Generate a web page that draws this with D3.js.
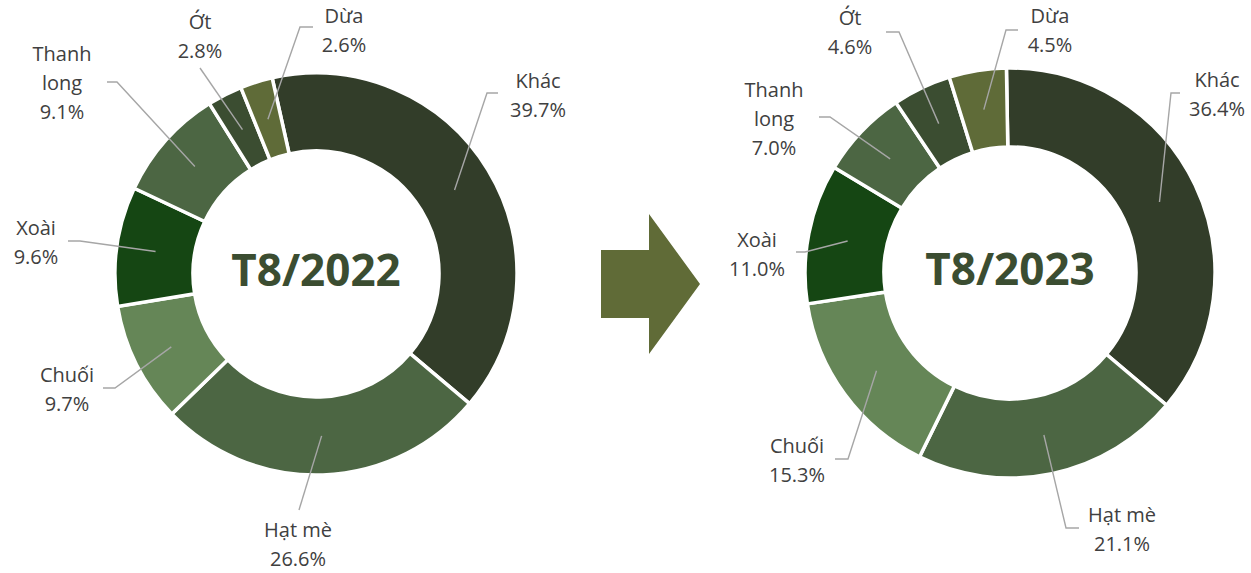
<!DOCTYPE html>
<html><head><meta charset="utf-8">
<script src="https://cdn.jsdelivr.net/npm/d3@7"></script>
<style>
html,body{margin:0;padding:0;background:#fff;}
svg{display:block;}
</style></head>
<body>
<svg id="chart" width="1251" height="573"></svg>
<script>
// ---- data ----
const categories = ["Khác", "Hạt mè", "Chuối", "Xoài", "Thanh long", "Ớt", "Dừa"];
const values2022 = [39.7, 26.6, 9.7, 9.6, 9.1, 2.8, 2.6];
const values2023 = [36.4, 21.1, 15.3, 11.0, 7.0, 4.6, 4.5];
const titles = ["T8/2022", "T8/2023"];

// ---- styles ----
const colors = ["#323d29", "#4c6643", "#658657", "#154613", "#4c6643", "#3b4d31", "#5f6b38"];
const textColor = "#404040";
const leaderColor = "#a6a6a6";
const titleColor = "#3b4d31";

// ---- layout (label placements relative to donut centre: text x, first baseline y, leader end x,y, elbow x) ----
const layout2022 = [
  [222, -186, 182, -181, 171],
  [-18, 263, -17, 236, null],
  [-249, 108, -213, 114, -201],
  [-280, -39, -248, -33, -236],
  [-254, -213, -209, -192, -199],
  [-116, -245, -116, -206, null],
  [28, -251, -3, -247, -16]
];
const layout2023 = [
  [207, -186, 170, -180, 161],
  [112, 249, 69, 255, 56],
  [-213, 180, -175, 186, -162],
  [-253, -26, -214, -21, -205],
  [-236, -176, -191, -156, -180],
  [-160, -248, -124, -241, -111],
  [40, -250, 8, -243, -4]
];

const charts = [
  {values: values2022, title: titles[0], cx: 316, cy: 274, r0: 123, r1: 201, start: -12.6, layout: layout2022},
  {values: values2023, title: titles[1], cx: 1010, cy: 273, r0: 126, r1: 205, start: -1, layout: layout2023}
];

const svg = d3.select("#chart");
const lineH = 29;

charts.forEach(ch => {
  const g = svg.append("g").attr("transform", `translate(${ch.cx},${ch.cy})`);
  const a0 = ch.start * Math.PI / 180;
  const pie = d3.pie().sort(null).startAngle(a0).endAngle(a0 + 2 * Math.PI);
  const arcs = pie(ch.values);
  const arc = d3.arc().innerRadius(ch.r0).outerRadius(ch.r1);

  g.selectAll("path.slice").data(arcs).join("path")
    .attr("class", "slice")
    .attr("d", arc)
    .attr("fill", (d, i) => colors[i])
    .attr("stroke", "#fff")
    .attr("stroke-width", 3.5)
    .attr("stroke-linejoin", "miter");

  // leader lines and labels
  arcs.forEach((d, i) => {
    const L = ch.layout[i];
    const c = arc.centroid(d);
    const pts = [[L[2], L[3]]];
    if (L[4] !== null) pts.push([L[4], L[3]]);
    pts.push(c);
    g.append("path")
      .attr("d", d3.line()(pts))
      .attr("fill", "none")
      .attr("stroke", leaderColor)
      .attr("stroke-width", 1.4);

    const lines = categories[i] === "Thanh long" ? ["Thanh", "long"] : [categories[i]];
    lines.push(d.data.toFixed(1) + "%");
    const t = g.append("text")
      .attr("x", L[0]).attr("y", L[1])
      .attr("text-anchor", "middle")
      .attr("font-family", "'Open Sans', sans-serif")
      .attr("font-size", 20)
      .attr("fill", textColor);
    lines.forEach((s, k) => {
      t.append("tspan").attr("x", L[0]).attr("y", L[1] + k * lineH).text(s);
    });
  });

  g.append("text")
    .attr("x", 0).attr("y", 12)
    .attr("text-anchor", "middle")
    .attr("font-family", "'Open Sans', sans-serif")
    .attr("font-weight", "bold")
    .attr("font-size", 44)
    .attr("fill", titleColor)
    .text(ch.title);
});

// arrow between the two donuts
const arrowShape = [[0, 36], [48, 36], [48, 0], [99, 70], [48, 140], [48, 104], [0, 104]];
svg.append("path")
  .attr("transform", "translate(601,214)")
  .attr("d", d3.line()(arrowShape) + "Z")
  .attr("fill", "#606b37");
</script>
</body></html>
